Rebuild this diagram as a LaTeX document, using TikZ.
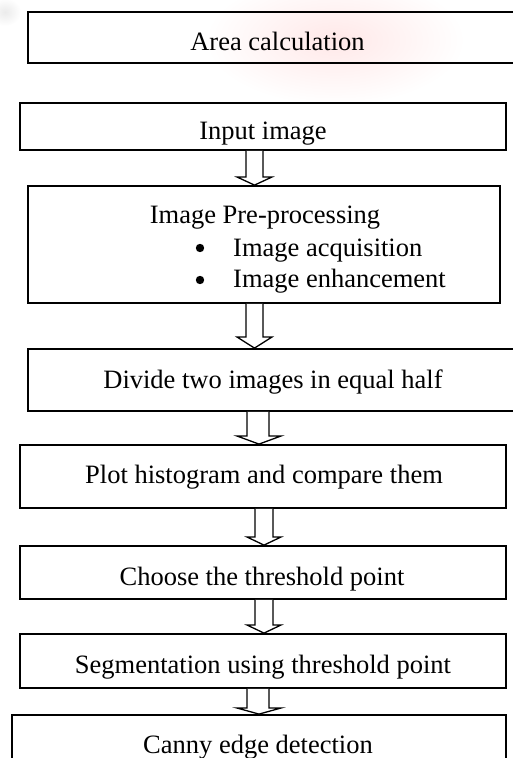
\documentclass[tikz,border=0pt]{standalone}
\usepackage{fontspec}
\setmainfont{Liberation Serif}
\begin{document}
\begin{tikzpicture}[x=1pt,y=-1pt,
  stepbox/.style={draw=black,line width=1.8pt,inner sep=0pt,rectangle},
  lbl/.style={anchor=base,inner sep=0pt,font=\fontsize{26.5}{30}\selectfont},
  blk/.style={draw=black,line width=1.3pt,fill=white,line join=miter}]
\useasboundingbox (0,0) rectangle (513,758);
\clip (0,0) rectangle (513,758);
% faint watermark
\shade[inner color=red!9,outer color=white] (335,40) ellipse [x radius=130,y radius=65];
\shade[inner color=black!8,outer color=white] (5,12) ellipse [x radius=16,y radius=14];
% boxes
\node[stepbox,minimum width=492pt,minimum height=51pt] (b1) at (274,37.5) {};
\node[stepbox,minimum width=486pt,minimum height=47pt] (b2) at (263,126.5) {};
\node[stepbox,minimum width=472pt,minimum height=117pt] (b3) at (264,244.5) {};
\node[stepbox,minimum width=492pt,minimum height=62pt] (b4) at (274,380) {};
\node[stepbox,minimum width=486pt,minimum height=63pt] (b5) at (263,476.5) {};
\node[stepbox,minimum width=486pt,minimum height=53pt] (b6) at (263,572.5) {};
\node[stepbox,minimum width=486pt,minimum height=54pt] (b7) at (263,661) {};
\node[stepbox,minimum width=494pt,minimum height=55pt] (b8) at (259,742.5) {};
% texts
\node[lbl] (t1) at (277.5,50) {Area calculation};
\node[lbl] (t2) at (263,139) {Input image};
\node[lbl] (t3) at (265,223) {Image Pre-processing};
\node[lbl,anchor=base west] (t3a) at (233,256) {Image acquisition};
\node[lbl,anchor=base west] (t3b) at (233,287) {Image enhancement};
\fill (200,248) circle (4.2) coordinate (d1);
\fill (200,280) circle (4.2) coordinate (d2);
\node[lbl] (t4) at (273,388) {Divide two images in equal half};
\node[lbl] (t5) at (264,483) {Plot histogram and compare them};
\node[lbl] (t6) at (262,585) {Choose the threshold point};
\node[lbl] (t7) at (263,673) {Segmentation using threshold point};
\node[lbl] (t8) at (258,753) {Canny edge detection};
% block arrows
\newcommand{\blockarr}[8]{%
  \draw[blk] (#3,0 |- #1.south) -- (#3,#7) -- (#5,#7) -- (#8,0 |- #2.north)
    -- (#6,#7) -- (#4,#7) -- (#4,0 |- #1.south);}
\blockarr{b2}{b3}{246}{263}{237}{272}{177}{254.5}
\blockarr{b3}{b4}{246}{263}{237}{272}{337}{254.5}
\blockarr{b4}{b5}{247}{269}{237}{281}{436}{259}
\blockarr{b5}{b6}{255}{273}{247}{281}{537}{264}
\blockarr{b6}{b7}{255}{273}{247}{281}{625}{264}
\blockarr{b7}{b8}{247}{269}{237}{281}{708}{259}
\end{tikzpicture}
\end{document}
